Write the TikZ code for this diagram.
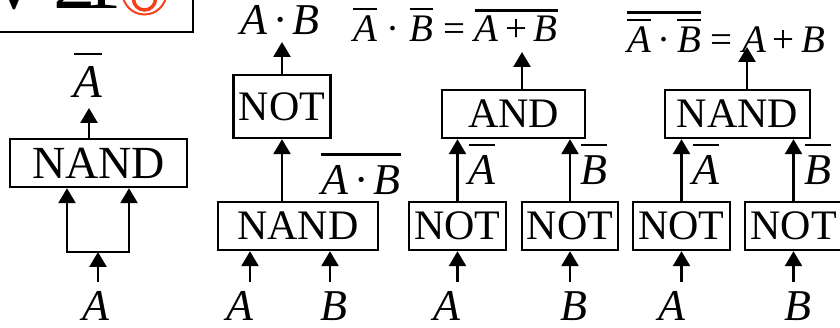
\documentclass[tikz,border=0pt]{standalone}
\usepackage{fontspec}
\setmainfont{Liberation Serif}
\usetikzlibrary{arrows.meta}
\definecolor{cred}{HTML}{F5401A}
\newcommand\ovl[3]{\vbox{\hrule height #1\kern #2\hbox{#3}}}
\newcommand\fs[1]{\fontsize{#1}{#1}\selectfont}
\begin{document}
\begin{tikzpicture}[x=1pt,y=-1pt,
  tri/.tip={Triangle[width=17pt,length=15pt]},
  gate/.style={draw,line width=2.4pt,inner sep=0pt,font=\fs{42}},
  conn/.style={line width=2.6pt,-tri},
  conn2/.style={line width=2.6pt,tri-tri,line join=miter},
  lab/.style={anchor=base,inner sep=0pt,font=\fs{44}\itshape},
  formula/.style={anchor=base west,inner sep=0pt,font=\fs{39}},
  hdr/.style={anchor=base,inner sep=0pt,font=\fs{85}}]
\useasboundingbox (0,0) rectangle (840,328);
\clip (0,0) rectangle (840,328);

% ---- cut-off header box
\draw[line width=2.4pt] (-10,-40) rectangle (193,32);
\node[hdr] (hv) at (14,9) {V};
\node[hdr] (h2) at (75,9) {2};
\node[hdr] (h1) at (101,9) {1};
\draw[cred,line width=2pt] (144.5,-7.5) circle (22);
\draw[cred,line width=3.5pt] (144.5,-1) circle (11);

% ---- panel 1
\node[gate,font=\fs{46},minimum width=177pt,minimum height=48pt] (nand1) at (98.5,163) {NAND};
\coordinate (f1l) at (67,252);
\coordinate (f1r) at (129,252);
\coordinate (f1m) at (98,252);
\coordinate (in1) at (98,282);
\coordinate (out1) at (89,108);
\draw[conn2] (nand1.south -| f1l) -- (f1l) -- (f1r) -- (nand1.south -| f1r);
\draw[conn] (in1) -- (f1m);
\draw[conn] (out1 |- nand1.north) -- (out1);
\node[lab,font=\fs{47}\itshape] (l1o) at (88,98) {\ovl{2.4pt}{12pt}{A}};
\node[lab] (l1i) at (96,321) {A};

% ---- panel 2
\node[gate,minimum width=97pt,minimum height=63pt] (not2) at (282,106.5) {NOT};
\node[gate,minimum width=160pt,minimum height=48pt] (nand2) at (298,226) {NAND};
\coordinate (o2) at (282,42);
\coordinate (i2a) at (250,282);
\coordinate (i2b) at (330,282);
\node[lab] (t2) at (280,35) {A\,·\,B};
\node[lab] (m2) at (361,195) {\ovl{3pt}{10pt}{A\,·\,B}};
\node[lab] (a2) at (240,321) {A};
\node[lab] (b2) at (334,321) {B};
\draw[conn] (nand2.north -| not2.south) -- (not2.south);
\draw[conn] (not2.north) -- (o2);
\draw[conn] (i2a) -- (i2a |- nand2.south);
\draw[conn] (i2b) -- (i2b |- nand2.south);

% ---- panel 3
\node[gate,minimum width=143pt,minimum height=48pt] (and3) at (513.5,114) {AND};
\node[gate,minimum width=97pt,minimum height=48pt] (not3a) at (457.5,226) {NOT};
\node[gate,minimum width=96pt,minimum height=48pt] (not3b) at (570,226) {NOT};
\coordinate (o3) at (522,52);
\coordinate (i3a) at (457.5,282);
\coordinate (i3b) at (570,282);
\node[formula] (f3) at (353,42) {\ovl{2.4pt}{6pt}{\textit{A}}\ ·\ \ovl{2.4pt}{6pt}{\textit{B}}\ =\ \ovl{2.8pt}{4pt}{\textit{A}\,+\,\textit{B}}};
\node[lab] (na3) at (482,185) {\ovl{2.4pt}{10pt}{A}};
\node[lab] (nb3) at (594,185) {\ovl{2.4pt}{10pt}{B}};
\node[lab] (a3) at (447,321) {A};
\node[lab] (b3) at (574,321) {B};
\draw[conn] (not3a.north) -- (not3a.north |- and3.south);
\draw[conn] (not3b.north) -- (not3b.north |- and3.south);
\draw[conn] (o3 |- and3.north) -- (o3);
\draw[conn] (i3a) -- (i3a |- not3a.south);
\draw[conn] (i3b) -- (i3b |- not3b.south);

% ---- panel 4
\node[gate,minimum width=145pt,minimum height=48pt] (nand4) at (737.5,114) {NAND};
\node[gate,minimum width=97pt,minimum height=48pt] (not4a) at (681.5,226) {NOT};
\node[gate,minimum width=97pt,minimum height=48pt] (not4b) at (793.5,226) {NOT};
\coordinate (o4) at (747,47);
\coordinate (i4a) at (681.5,282);
\coordinate (i4b) at (793.5,282);
\node[formula] (f4) at (627,53) {\ovl{2.8pt}{5pt}{\ovl{2.2pt}{6pt}{\textit{A}}\,·\,\ovl{2.2pt}{6pt}{\textit{B}}}\ =\ \textit{A}\,+\,\textit{B}};
\node[lab] (na4) at (706,185) {\ovl{2.4pt}{10pt}{A}};
\node[lab] (nb4) at (818,185) {\ovl{2.4pt}{10pt}{B}};
\node[lab] (a4) at (672,321) {A};
\node[lab] (b4) at (798,321) {B};
\draw[conn] (not4a.north) -- (not4a.north |- nand4.south);
\draw[conn] (not4b.north) -- (not4b.north |- nand4.south);
\draw[conn] (o4 |- nand4.north) -- (o4);
\draw[conn] (i4a) -- (i4a |- not4a.south);
\draw[conn] (i4b) -- (i4b |- not4b.south);
\end{tikzpicture}
\end{document}
